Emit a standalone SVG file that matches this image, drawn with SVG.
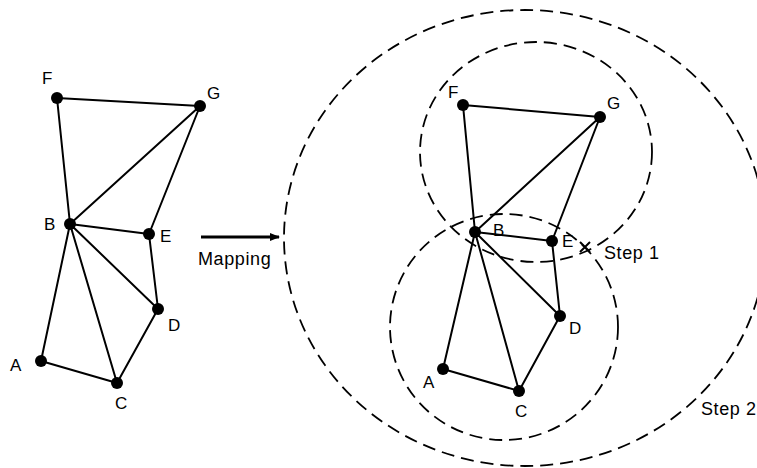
<svg xmlns="http://www.w3.org/2000/svg" width="757" height="468" viewBox="0 0 757 468">
<style>
.e{stroke:#000;stroke-width:2;fill:none}
.c{stroke:#000;stroke-width:1.8;fill:none;stroke-dasharray:13 7}
.n{fill:#000}
text{font-family:"Liberation Sans",Arial,sans-serif;font-size:17px;fill:#000}
.t{font-size:18px;letter-spacing:0.6px}
</style>
<defs>
<marker id="ah" markerWidth="10" markerHeight="8" refX="9" refY="4" orient="auto" markerUnits="userSpaceOnUse">
<path d="M0,0 L10,4 L0,8 Z" fill="#000"/>
</marker>
</defs>
<rect width="757" height="468" fill="#fff"/>
<g id="regions">
<ellipse class="c" cx="525" cy="238" rx="241" ry="228"/>
<ellipse class="c" cx="536" cy="152" rx="116" ry="110"/>
<ellipse class="c" cx="504" cy="327" rx="114" ry="113"/>
</g>
<g id="connectors">
<path class="e" d="M57,98 L200,106 M57,98 L70,224 M200,106 L70,224 M200,106 L149,234 M70,224 L149,234 M149,234 L158,309 M70,224 L158,309 M70,224 L117,383 M70,224 L41,361 M41,361 L117,383 M117,383 L158,309"/>
<path class="e" d="M463,105 L600,117 M463,105 L475,232 M600,117 L475,232 M600,117 L552,241 M475,232 L552,241 M552,241 L560,316 M475,232 L560,316 M475,232 L519,391 M475,232 L443,369 M443,369 L519,391 M519,391 L560,316"/>
<line x1="201" y1="237" x2="279" y2="237" stroke="#000" stroke-width="3" marker-end="url(#ah)"/>
<path class="e" d="M580,242 L590,252 M580,252 L590,242" stroke-width="1.6"/>
</g>
<g id="left-graph">
<circle class="n" cx="57" cy="98" r="6"/><text x="42" y="84">F</text>
<circle class="n" cx="200" cy="106" r="6"/><text x="207" y="99">G</text>
<circle class="n" cx="70" cy="224" r="6"/><text x="44" y="230">B</text>
<circle class="n" cx="149" cy="234" r="6"/><text x="160" y="242">E</text>
<circle class="n" cx="158" cy="309" r="6"/><text x="168" y="331">D</text>
<circle class="n" cx="41" cy="361" r="6"/><text x="10" y="371">A</text>
<circle class="n" cx="117" cy="383" r="6"/><text x="115" y="409">C</text>
</g>
<g id="right-graph">
<circle class="n" cx="463" cy="105" r="6"/><text x="448" y="98">F</text>
<circle class="n" cx="600" cy="117" r="6"/><text x="607" y="109">G</text>
<circle class="n" cx="475" cy="232" r="6"/><text x="493" y="236">B</text>
<circle class="n" cx="552" cy="241" r="6"/><text x="562" y="247">E</text>
<circle class="n" cx="560" cy="316" r="6"/><text x="569" y="334">D</text>
<circle class="n" cx="443" cy="369" r="6"/><text x="423" y="388">A</text>
<circle class="n" cx="519" cy="391" r="6"/><text x="515" y="417">C</text>
</g>
<g id="labels">
<text class="t" x="198" y="265">Mapping</text>
<text class="t" x="604" y="259">Step 1</text>
<text class="t" x="701" y="415">Step 2</text>
</g>
</svg>
